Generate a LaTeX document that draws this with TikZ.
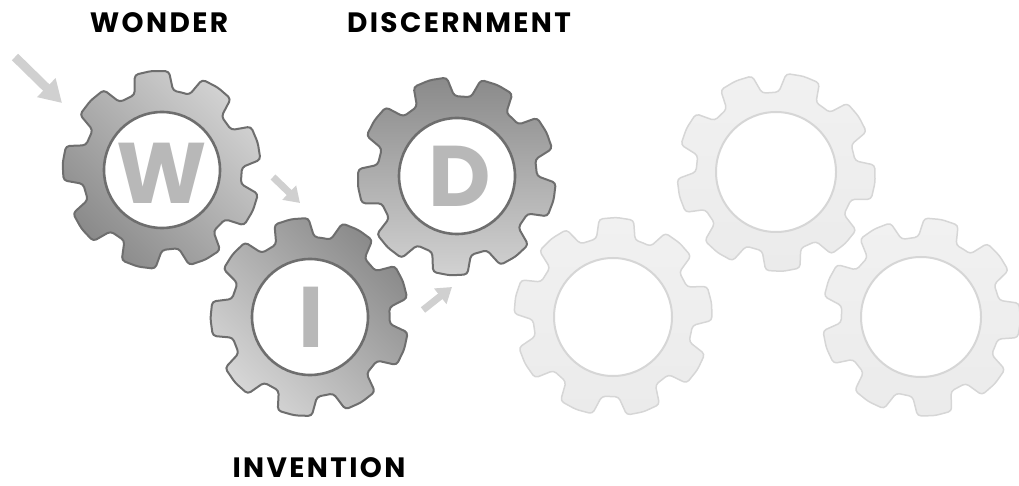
\documentclass[tikz,border=0pt]{standalone}
\usepackage{fontspec}
\newfontfamily\popfont{Poppins}
\newfontfamily\capfont{Poppins}[LetterSpace=8.5]
\usetikzlibrary{arrows.meta}
\definecolor{gearedge}{HTML}{6E6E6E}
\definecolor{gearlight}{HTML}{D2D2D2}
\definecolor{geardark}{HTML}{8A8A8A}
\definecolor{fadefill}{HTML}{F1F1F1}
\definecolor{fadefillb}{HTML}{EBEBEB}
\definecolor{fadeedge}{HTML}{D6D6D6}
\definecolor{lettergray}{HTML}{B8B8B8}
\definecolor{arrowgray}{HTML}{D0D0D0}
\newcommand\gearoutline[1]{(#1-20:80pt) \foreach \k in {0,...,8}{ -- ({#1+40*\k-14}:80pt) -- ({#1+40*\k-10}:99pt) -- ({#1+40*\k}:99.6pt) -- ({#1+40*\k+10}:99pt) -- ({#1+40*\k+14}:80pt)} -- cycle}
\tikzset{
  gearbody/.style={draw=gearedge, line width=2pt, rounded corners=3.5pt, line join=round},
  gearhole/.style={draw=gearedge, line width=2.6pt, fill=white},
  fadebody/.style={draw=fadeedge, line width=1.5pt, rounded corners=3.5pt, line join=round, top color=fadefill, bottom color=fadefillb},
  fadehole/.style={draw=fadeedge, line width=2pt, fill=white},
  bigletter/.style={font=\popfont\bfseries\fontsize{86}{86}\selectfont, text=lettergray, inner sep=0pt},
  caption/.style={font=\capfont\bfseries\fontsize{28}{28}\selectfont, text=black, inner sep=0pt},
  bigarrow/.style={draw=arrowgray, line width=9pt, -{Triangle[length=22pt,width=25pt]}},
  smallarrow/.style={draw=arrowgray, line width=7pt, -{Triangle[length=15pt,width=19pt]}}
}
\begin{document}
\begin{tikzpicture}[x=1pt,y=1pt]
\useasboundingbox (0,0) rectangle (1019,485);
% faded gears
\begin{scope}[shift={(613,168)}]
  \draw[fadebody] \gearoutline{88};
  \draw[fadehole] (0,0) circle (59pt);
  \coordinate (ga) at (0,0);
\end{scope}
\begin{scope}[shift={(776,313)}]
  \draw[fadebody] \gearoutline{74};
  \draw[fadehole] (0,0) circle (60pt);
  \coordinate (gb) at (0,0);
\end{scope}
\begin{scope}[shift={(921,168)}]
  \draw[fadebody] \gearoutline{78};
  \draw[fadehole] (0,0) circle (60pt);
  \coordinate (gc) at (0,0);
\end{scope}
% W gear
\begin{scope}[shift={(162,315)}]
  \draw[gearbody, top color=gearlight, bottom color=geardark, shading angle=-45] \gearoutline{96};
  \draw[gearhole] (0,0) circle (58pt);
  \node[bigletter] (W) at (0,-3) {W};
\end{scope}
% D gear
\begin{scope}[shift={(457,309)}]
  \draw[gearbody, top color=geardark, bottom color=gearlight] \gearoutline{66};
  \draw[gearhole] (0,0) circle (58pt);
  \node[bigletter] (D) at (3,0) {D};
\end{scope}
% I gear
\begin{scope}[shift={(310,168)}]
  \draw[gearbody, top color=geardark, bottom color=gearlight!90!white, shading angle=-45] \gearoutline{101};
  \draw[gearhole] (0,0) circle (58pt);
  \node[bigletter] (I) at (1,0) {I};
\end{scope}
% arrows
\coordinate (a1s) at (15,428);
\coordinate (a1e) at (62,382);
\coordinate (a2s) at (273,308);
\coordinate (a2e) at (300,282);
\coordinate (a3s) at (423,175);
\coordinate (a3e) at (452,198);
\draw[bigarrow] (a1s) -- (a1e);
\draw[smallarrow] (a2s) -- (a2e);
\draw[smallarrow] (a3s) -- (a3e);
% captions
\node[caption] (wonder) at (159,462) {WONDER};
\node[caption] (discern) at (459,462) {DISCERNMENT};
\node[caption] (invent) at (319,17) {INVENTION};
\end{tikzpicture}
\end{document}
